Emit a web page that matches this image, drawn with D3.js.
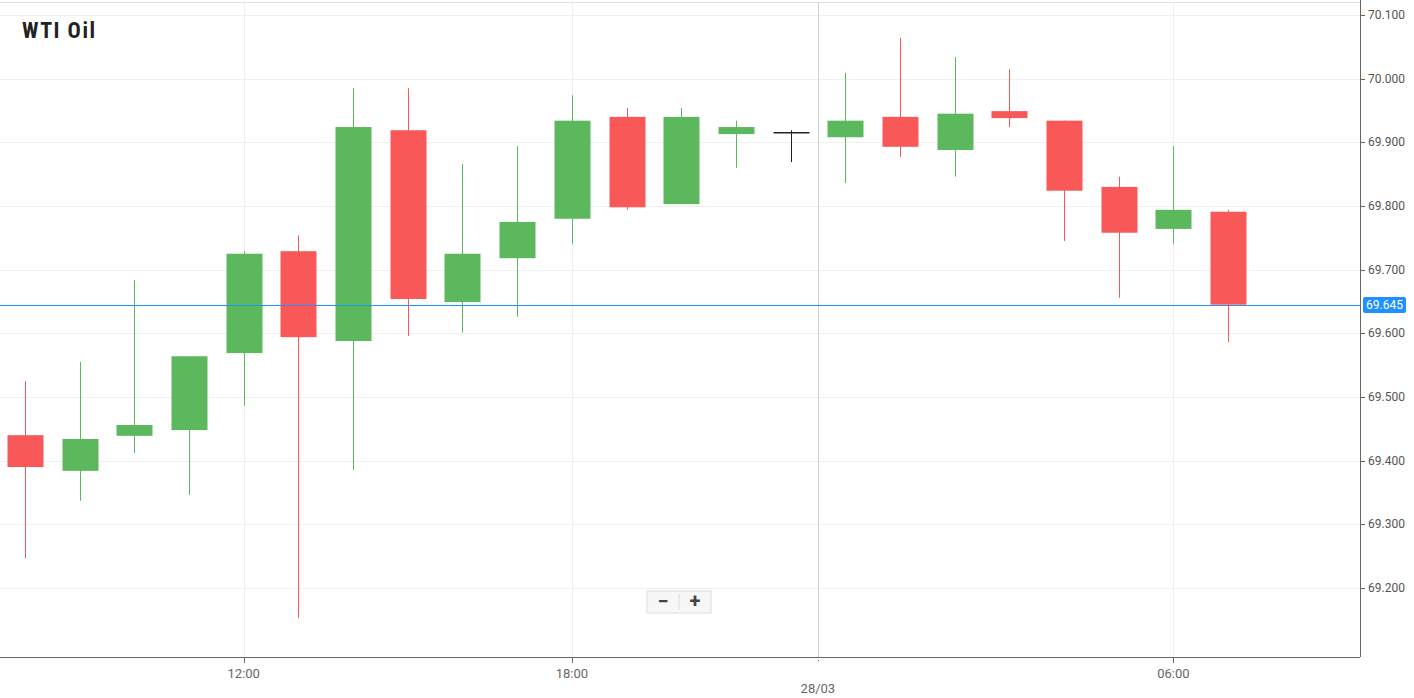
<!DOCTYPE html><html><head><meta charset="utf-8">
<script src="https://cdn.jsdelivr.net/npm/d3@7"></script>
<style>body{margin:0;background:#fff;font-family:Roboto,sans-serif}</style></head><body>
<svg id="c" width="1414" height="698"></svg>
<script>
const opens =[69.440,69.384,69.439,69.448,69.569,69.729,69.588,69.919,69.649,69.718,69.780,69.940,69.803,69.913,69.915,69.908,69.940,69.888,69.949,69.934,69.830,69.764,69.791];
const highs =[69.525,69.555,69.684,69.564,69.729,69.754,69.985,69.985,69.866,69.894,69.974,69.954,69.954,69.934,69.919,70.009,70.064,70.034,70.015,69.934,69.846,69.894,69.794];
const lows  =[69.247,69.337,69.412,69.346,69.486,69.153,69.385,69.596,69.601,69.626,69.740,69.794,69.803,69.860,69.869,69.836,69.877,69.846,69.924,69.745,69.656,69.740,69.586];
const closes=[69.390,69.434,69.456,69.564,69.725,69.594,69.924,69.654,69.725,69.775,69.934,69.798,69.940,69.924,69.915,69.934,69.893,69.945,69.938,69.824,69.758,69.794,69.645];
const xTickPos=[4,10,14.5,21];
const xTickLabels=["12:00","18:00","28/03","06:00"];
const yTicks=[69.2,69.3,69.4,69.5,69.6,69.7,69.8,69.9,70.0,70.1];
const lastPrice=69.645;
const svg=d3.select("#c");
const W=1360,H=657;
const x=d3.scaleLinear().domain([0,22]).range([25,1228]);
const y=d3.scaleLinear().domain([69.2,70.1]).range([588,15]);
const g=svg.append("g");
g.append("line").attr("x1",0).attr("x2",W).attr("y1",2.5).attr("y2",2.5).attr("stroke","#e0e0e0");
yTicks.forEach(t=>g.append("line").attr("x1",0).attr("x2",W).attr("y1",Math.round(y(t))+.5).attr("y2",Math.round(y(t))+.5).attr("stroke","#efefef"));
xTickPos.forEach((p,i)=>g.append("line").attr("x1",Math.round(x(p))+.5).attr("x2",Math.round(x(p))+.5).attr("y1",2).attr("y2",H).attr("stroke",i==2?"#d0d0d0":"#efefef"));
g.append("line").attr("x1",W+.5).attr("x2",W+.5).attr("y1",0).attr("y2",H).attr("stroke","#666");
g.append("line").attr("x1",0).attr("x2",W).attr("y1",H+.5).attr("y2",H+.5).attr("stroke","#666");
yTicks.forEach(t=>{g.append("line").attr("x1",W).attr("x2",W+5).attr("y1",Math.round(y(t))+.5).attr("y2",Math.round(y(t))+.5).attr("stroke","#666");
 g.append("text").attr("x",W+8).attr("y",y(t)+4).attr("font-size",12).attr("fill","#555").text(t.toFixed(3));});
xTickPos.forEach((p,i)=>{g.append("line").attr("x1",Math.round(x(p))+.5).attr("x2",Math.round(x(p))+.5).attr("y1",H).attr("y2",H+6).attr("stroke","#666").attr("stroke-dasharray",i==2?"1,2":null);
 g.append("text").attr("x",x(p)).attr("y",i==2?693:678).attr("text-anchor","middle").attr("font-size",13).attr("fill","#666").text(xTickLabels[i]);});
const up="#5cb85c",dn="#f95858";
opens.forEach((o,i)=>{const c=closes[i],col=Math.abs(c-o)<0.001?"#222":(c>o?up:dn);const cx=Math.round(x(i))+.5;
 g.append("line").attr("x1",cx).attr("x2",cx).attr("y1",y(highs[i])).attr("y2",y(lows[i])).attr("stroke",col);
 const t=y(Math.max(o,c)),b=y(Math.min(o,c));
 if(b-t<1.5) g.append("line").attr("x1",cx-18).attr("x2",cx+18).attr("y1",t).attr("y2",t).attr("stroke",col).attr("stroke-width",1.5);
 else g.append("rect").attr("x",cx-18).attr("width",36).attr("y",t).attr("height",b-t).attr("fill",col);});
const ly=Math.round(y(lastPrice));
g.append("rect").attr("x",0).attr("y",ly).attr("width",W).attr("height",1).attr("fill","#1e90ff");
g.append("rect").attr("x",W+3).attr("y",ly-8).attr("width",43).attr("height",16).attr("rx",2).attr("fill","#1e90ff");
g.append("text").attr("x",W+24.5).attr("y",ly+4).attr("text-anchor","middle").attr("font-size",12).attr("fill","#fff").text(lastPrice.toFixed(3));
svg.append("text").attr("x",22).attr("y",38).attr("font-size",22).attr("font-weight","bold").attr("fill","#222").style("font-family","Roboto Condensed, Roboto, sans-serif").attr("textLength",73).text("WTI Oil");
const z=svg.append("g").attr("transform","translate(647,591)");
z.append("rect").attr("width",64).attr("height",22).attr("fill","#f7f7f7").attr("stroke","#ddd");
z.append("line").attr("x1",32).attr("x2",32).attr("y1",3).attr("y2",19).attr("stroke","#ddd");
z.append("text").attr("x",16).attr("y",17).attr("text-anchor","middle").attr("font-size",20).attr("font-weight","bold").attr("fill","#444").text("−");
z.append("text").attr("x",48).attr("y",17).attr("text-anchor","middle").attr("font-size",20).attr("font-weight","bold").attr("fill","#444").text("+");
</script></body></html>
